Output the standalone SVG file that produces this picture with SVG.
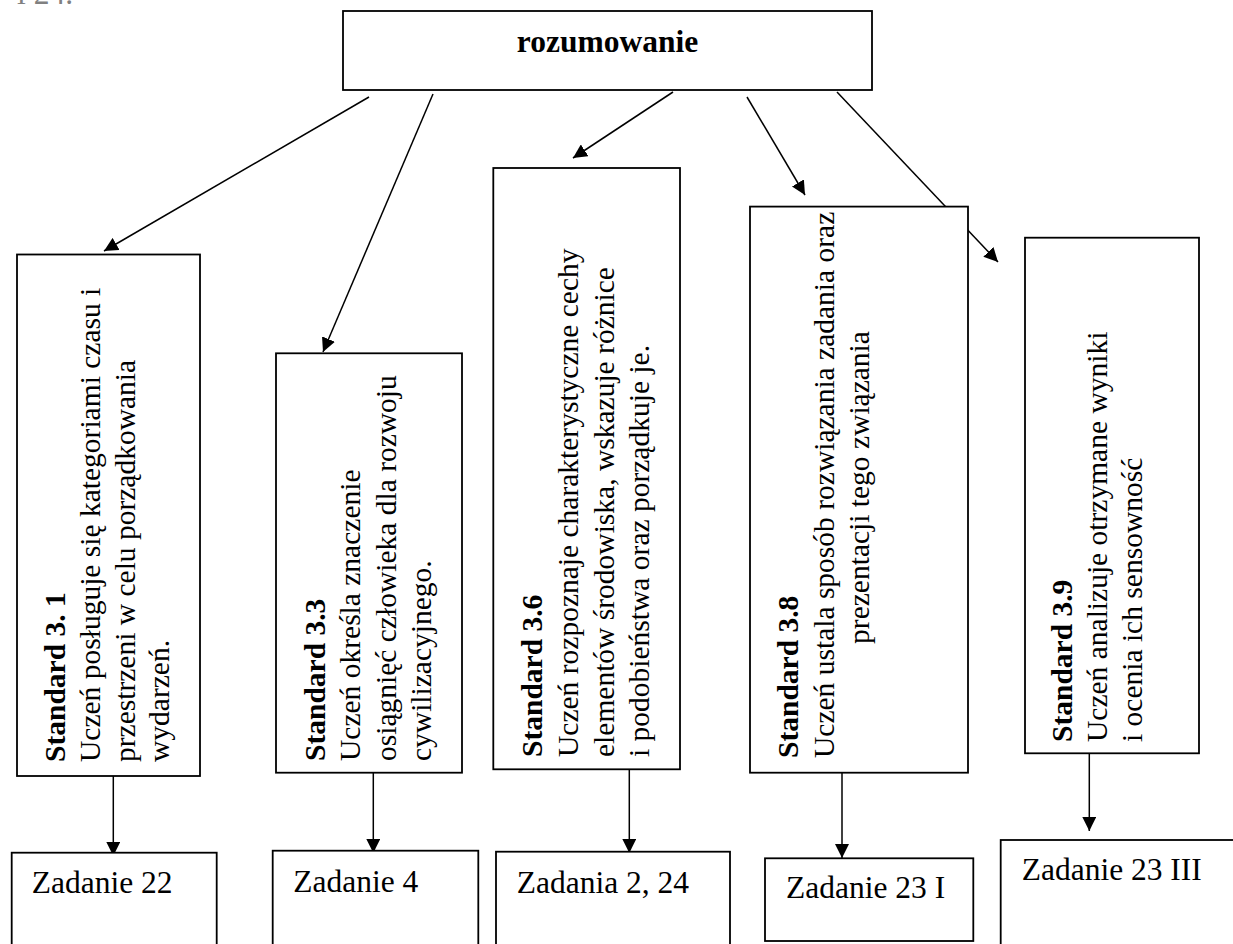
<svg xmlns="http://www.w3.org/2000/svg" width="1233" height="944" viewBox="0 0 1233 944">
<style>
.box{fill:#fff;stroke:#000;stroke-width:1.8}
.ln{fill:none;stroke:#000;stroke-width:1.5;marker-end:url(#ah)}
.t{font-family:"Liberation Serif","Times New Roman",serif;font-size:31.5px;fill:#000}
.r{font-family:"Liberation Serif","Times New Roman",serif;font-size:29.5px;fill:#000}
.b{font-weight:bold}
</style>
<defs>
<marker id="ah" markerUnits="userSpaceOnUse" markerWidth="14" markerHeight="14" refX="14" refY="7" orient="auto">
<path d="M0,0 L14,7 L0,14 z" fill="#000"/>
</marker>
</defs>
<text class="t" x="17" y="4" fill="#808080" style="fill:#808080">i 24.</text>
<g id="connectors">
<line class="ln" x1="369" y1="97" x2="104" y2="251"/>
<line class="ln" x1="433" y1="94" x2="323" y2="352"/>
<line class="ln" x1="673" y1="92" x2="573" y2="158"/>
<line class="ln" x1="747" y1="97" x2="805" y2="195"/>
<line class="ln" x1="837" y1="92" x2="998" y2="262"/>
<line class="ln" x1="113.3" y1="776" x2="113.3" y2="856"/>
<line class="ln" x1="373.3" y1="773" x2="373.3" y2="853"/>
<line class="ln" x1="629.3" y1="769" x2="629.3" y2="853"/>
<line class="ln" x1="842" y1="773" x2="842" y2="858"/>
<line class="ln" x1="1089.3" y1="753" x2="1089.3" y2="831"/>
</g>
<g id="root">
<rect class="box" x="343" y="11" width="529" height="79"/>
<text class="t b" x="607.5" y="51.7" text-anchor="middle">rozumowanie</text>
</g>
<g id="std31">
<rect class="box" x="17" y="254.5" width="183" height="521.5"/>
<g transform="translate(65,762) rotate(-90)">
<text class="r b" x="0" y="0">Standard 3. 1</text>
<text class="r" x="0" y="35">Uczeń posługuje się kategoriami czasu i</text>
<text class="r" x="0" y="70">przestrzeni w celu porządkowania</text>
<text class="r" x="0" y="104">wydarzeń.</text>
</g>
</g>
<g id="std33">
<rect class="box" x="276" y="353.3" width="186" height="419.4"/>
<g transform="translate(325,761) rotate(-90)">
<text class="r b" x="0" y="0">Standard 3.3</text>
<text class="r" x="0" y="35">Uczeń określa znaczenie</text>
<text class="r" x="0" y="71">osiągnięć człowieka dla rozwoju</text>
<text class="r" x="0" y="106">cywilizacyjnego.</text>
</g>
</g>
<g id="std36">
<rect class="box" x="493.3" y="168" width="186.7" height="601.3"/>
<g transform="translate(541.5,757) rotate(-90)">
<text class="r b" x="0" y="0">Standard 3.6</text>
<text class="r" x="0" y="36">Uczeń rozpoznaje charakterystyczne cechy</text>
<text class="r" x="0" y="72">elementów środowiska, wskazuje różnice</text>
<text class="r" x="0" y="107">i podobieństwa oraz porządkuje je.</text>
</g>
</g>
<g id="std38">
<rect class="box" x="750" y="206.6" width="218" height="566.1"/>
<g transform="translate(798,758) rotate(-90)">
<text class="r b" x="0" y="0">Standard 3.8</text>
<text class="r" x="0" y="36">Uczeń ustala sposób rozwiązania zadania oraz</text>
<text class="r" x="270.5" y="71" text-anchor="middle">prezentacji tego związania</text>
</g>
</g>
<g id="std39">
<rect class="box" x="1025" y="237.7" width="174" height="515.6"/>
<g transform="translate(1072,742) rotate(-90)">
<text class="r b" x="0" y="0">Standard 3.9</text>
<text class="r" x="0" y="35">Uczeń analizuje otrzymane wyniki</text>
<text class="r" x="0" y="70">i ocenia ich sensowność</text>
</g>
</g>
<g id="zad22">
<rect class="box" x="11.7" y="852.7" width="205" height="100"/>
<text class="t" x="31.7" y="893">Zadanie 22</text>
</g>
<g id="zad4">
<rect class="box" x="272.7" y="850.7" width="205.6" height="100"/>
<text class="t" x="293.3" y="891.7">Zadanie 4</text>
</g>
<g id="zad224">
<rect class="box" x="496" y="851.7" width="234" height="100"/>
<text class="t" x="516.7" y="892.7">Zadania 2, 24</text>
</g>
<g id="zad23I">
<rect class="box" x="765" y="858.3" width="208.3" height="82.7"/>
<text class="t" x="786" y="898">Zadanie 23 I</text>
</g>
<g id="zad23III">
<rect class="box" x="1000.7" y="840" width="240" height="110"/>
<text class="t" x="1021.7" y="880">Zadanie 23 III</text>
</g>
</svg>
